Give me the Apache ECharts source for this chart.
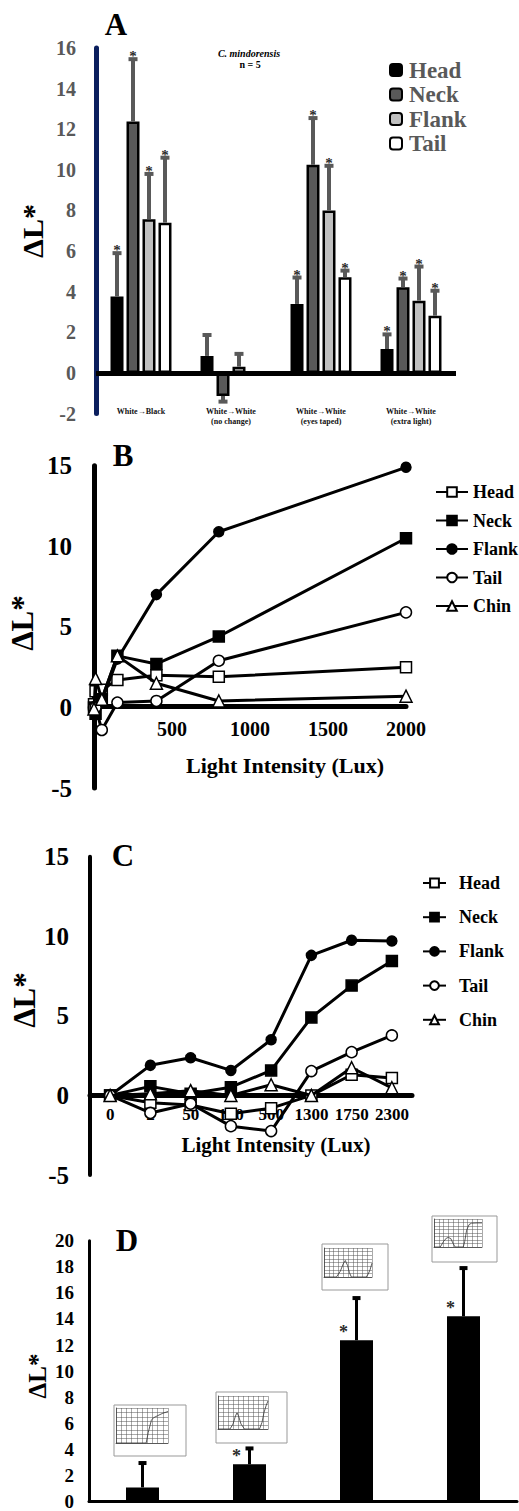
<!DOCTYPE html>
<html><head><meta charset="utf-8">
<script src="https://cdn.jsdelivr.net/npm/echarts@6/dist/echarts.min.js"></script>
<style>html,body{margin:0;padding:0;background:#fff}#c{width:519px;height:1511px}</style>
</head><body><div id="c"></div>
<script>
// ---------- Panel A ----------
const catsA = ['White→Black', 'White→White\n(no change)', 'White→White\n(eyes taped)', 'White→White\n(extra light)'];
const partsA = ['Head', 'Neck', 'Flank', 'Tail'];
const headA = [3.76, 0.84, 3.40, 1.18];
const neckA = [12.38, -1.13, 10.25, 4.22];
const flankA = [7.57, 0.31, 8.00, 3.56];
const tailA = [7.40, -0.08, 4.71, 2.82];
const headErrA = [2.14, 1.03, 1.30, 0.72];
const neckErrA = [3.07, 0.28, 2.30, 0.43];
const flankErrA = [2.23, 0.63, 2.20, 1.68];
const tailErrA = [3.20, 0.00, 0.33, 1.23];
const headStarA = [1, 0, 1, 1];
const neckStarA = [1, 0, 1, 1];
const flankStarA = [1, 0, 1, 1];
const tailStarA = [1, 0, 1, 1];

// ---------- Panel B ----------
const luxB = [0, 10, 50, 150, 400, 800, 2000];
const headB = [0.2, 1.0, 1.1, 1.7, 2.0, 1.9, 2.5];
const neckB = [0, -0.4, 0.5, 3.2, 2.7, 4.4, 10.5];
const flankB = [0, 0.0, 0.4, 3.0, 7.0, 10.9, 14.9];
const tailB = [0, 0.0, -1.4, 0.3, 0.4, 2.9, 5.9];
const chinB = [-0.1, 1.8, 0.5, 3.2, 1.5, 0.4, 0.7];

// ---------- Panel C ----------
const luxC = ['0', '2', '50', '150', '500', '1300', '1750', '2300'];
const headC = [0, -0.46, -0.6, -1.15, -0.8, 0, 1.3, 1.09];
const neckC = [0, 0.57, 0.1, 0.52, 1.57, 4.9, 6.9, 8.45];
const flankC = [0, 1.89, 2.37, 1.57, 3.5, 8.8, 9.75, 9.7];
const tailC = [0, -1.1, -0.52, -1.93, -2.24, 1.53, 2.72, 3.77];
const chinC = [0, 0.1, 0.3, 0.0, 0.67, 0, 1.74, 0.48];

// ---------- Panel D ----------
const catsD = ['Filter 1', 'Filter 2', 'Filter 3', 'Filter 4'];
const valD = [1.08, 2.85, 12.37, 14.2];
const errD = [1.87, 1.22, 3.23, 3.7];
const starD = [0, 1, 1, 1];

// inset transmission curves [wavelength nm, % transmission]
const inset1 = [[300,0],[590,0],[610,30],[640,65],[660,72],[700,78],[750,85],[800,90]];
const inset2 = [[300,0],[420,0],[450,15],[475,40],[490,49],[505,40],[530,15],[565,0],[715,0],[740,20],[760,50],[780,70],[800,85]];
const inset3 = [[300,0],[430,0],[470,20],[500,45],[522,57],[545,40],[565,15],[585,0],[740,0],[760,10],[780,25],[800,48]];
const inset4 = [[300,0],[365,0],[400,20],[430,32],[450,34],[475,30],[500,12],[520,0],[605,0],[620,20],[640,60],[665,80],[690,85],[750,86],[800,86]];

// ---------- styling ----------
const SERIF = 'Liberation Serif';
const BAR_W = 13, BAR_GAP = 0.23;
const GRAY = '#595959';

const chart = echarts.init(document.getElementById('c'), null, {renderer: 'svg'});

function starText(x, y, size) {
  return {type: 'text', style: {text: '*', x: x, y: y, align: 'center', verticalAlign: 'middle',
    fontFamily: SERIF, fontWeight: 'bold', fontSize: size, fill: '#2a2a2a', stroke: '#2a2a2a', lineWidth: 0}};
}
function errRenderA(k) {
  return function (params, api) {
    const i = api.value(0), v = api.value(1), e = api.value(2), star = api.value(3);
    const c = api.coord([i, v]);
    const x = c[0] + (k - 1.5) * BAR_W * (1 + BAR_GAP);
    const dir = v >= 0 ? 1 : -1;
    const end = api.coord([i, v + dir * e]);
    const ch = [];
    if (e > 0) {
      ch.push({type: 'line', shape: {x1: x, y1: c[1], x2: x, y2: end[1]}, style: {stroke: GRAY, lineWidth: 4}});
      ch.push({type: 'rect', shape: {x: x - 4.5, y: end[1] - 2, width: 9, height: 4}, style: {fill: GRAY}});
    }
    if (star) ch.push(starText(x, end[1] - 3, 15));
    return {type: 'group', children: ch};
  };
}
function errRenderD(params, api) {
  const i = api.value(0), v = api.value(1), e = api.value(2), star = api.value(3);
  const c = api.coord([i, v]);
  const end = api.coord([i, v + e]);
  const ch = [
    {type: 'line', shape: {x1: c[0], y1: c[1], x2: c[0], y2: end[1]}, style: {stroke: '#000', lineWidth: 3}},
    {type: 'rect', shape: {x: c[0] - 4, y: end[1] - 2, width: 8, height: 4}, style: {fill: '#000'}}
  ];
  if (star) ch.push(starText(c[0] - 13, c[1] - 8, 18));
  return {type: 'group', children: ch};
}

const valsA = [headA, neckA, flankA, tailA];
const errsA = [headErrA, neckErrA, flankErrA, tailErrA];
const starsA = [headStarA, neckStarA, flankStarA, tailStarA];
const fillsA = ['#000', GRAY, '#c0c0c0', '#fff'];

const series = [];
partsA.forEach((p, k) => {
  const s = {
    name: 'A-' + p, type: 'bar', xAxisIndex: 0, yAxisIndex: 0,
    barWidth: BAR_W, barGap: (BAR_GAP * 100) + '%',
    itemStyle: {color: fillsA[k], borderColor: '#000', borderWidth: 2.5},
    data: valsA[k], z: 2
  };
  if (k === 3) s.markLine = {silent: true, symbol: 'none', label: {show: false}, lineStyle: {color: '#000', width: 5, type: 'solid'}, data: [{yAxis: 0}], z: 5};
  series.push(s);
});
partsA.forEach((p, k) => {
  series.push({
    name: 'errA-' + p, type: 'custom', xAxisIndex: 0, yAxisIndex: 0, z: 6,
    itemStyle: {color: '#2a2a2a'},
    renderItem: errRenderA(k),
    data: valsA[k].map((v, i) => [i, v, errsA[k][i], starsA[k][i]])
  });
});

// line panel series
const lineDefs = [
  {n: 'Head', sym: 'rect', fill: '#fff', size: 11},
  {n: 'Neck', sym: 'rect', fill: '#000', size: 11},
  {n: 'Flank', sym: 'circle', fill: '#000', size: 10},
  {n: 'Tail', sym: 'circle', fill: '#fff', size: 11},
  {n: 'Chin', sym: 'triangle', fill: '#fff', size: 12}
];
const valsB = [headB, neckB, flankB, tailB, chinB];
const valsC = [headC, neckC, flankC, tailC, chinC];
lineDefs.forEach((d, k) => {
  series.push({
    name: 'B-' + d.n, type: 'line', xAxisIndex: 1, yAxisIndex: 1,
    symbol: d.sym, symbolSize: d.size, z: 3 + k * 0.1,
    lineStyle: {color: '#000', width: 3},
    itemStyle: {color: d.fill, borderColor: '#000', borderWidth: 1.5},
    data: luxB.map((x, i) => [x, valsB[k][i]])
  });
});
lineDefs.forEach((d, k) => {
  series.push({
    name: 'C-' + d.n, type: 'line', xAxisIndex: 2, yAxisIndex: 2,
    symbol: d.sym, symbolSize: d.size, z: 3 + k * 0.1,
    lineStyle: {color: '#000', width: 3},
    itemStyle: {color: d.fill, borderColor: '#000', borderWidth: 1.5},
    data: valsC[k]
  });
});

// Panel D
series.push({name: 'D', type: 'bar', xAxisIndex: 3, yAxisIndex: 3, barWidth: 33, itemStyle: {color: '#000'}, data: valD});
series.push({name: 'errD', type: 'custom', xAxisIndex: 3, yAxisIndex: 3, z: 6, itemStyle: {color: '#2a2a2a'}, renderItem: errRenderD,
  data: valD.map((v, i) => [i, v, errD[i], starD[i]])});

// insets
const insets = [inset1, inset2, inset3, inset4];
insets.forEach((d, k) => {
  series.push({name: 'inset' + k, type: 'line', xAxisIndex: 4 + k, yAxisIndex: 4 + k, symbol: 'none', z: 4,
    lineStyle: {color: '#333', width: 0.8}, data: d, silent: true});
});

const insetGrids = [
  {left: 116, top: 1408, width: 52, height: 35},
  {left: 218, top: 1396, width: 50, height: 33},
  {left: 324, top: 1248, width: 48, height: 29},
  {left: 434, top: 1219, width: 48, height: 28}
];
const insetBoxes = [
  [114, 1405, 72, 51], [216, 1392, 71, 51], [322, 1244, 66, 46], [432, 1216, 65, 46]
];

const numLabel = (size, color) => ({fontFamily: SERIF, fontWeight: 'bold', fontSize: size, color: color || '#000'});

const xAxes = [
  {gridIndex: 0, type: 'category', data: catsA, position: 'bottom',
    axisLine: {show: false, onZero: false}, axisTick: {show: false},
    axisLabel: Object.assign(numLabel(8, '#111'), {margin: -7, lineHeight: 10, interval: 0})},
  {gridIndex: 1, type: 'value', min: 0, max: 2000, interval: 500, offset: -81.3,
    axisLine: {show: true, onZero: false, lineStyle: {color: '#000', width: 5}}, axisTick: {show: false}, splitLine: {show: false},
    axisLabel: Object.assign(numLabel(20), {margin: 12, showMinLabel: false, formatter: v => v === 0 ? '' : String(v)})},
  {gridIndex: 2, type: 'category', data: luxC, boundaryGap: true, offset: -79.6,
    axisLine: {show: true, onZero: false, lineStyle: {color: '#000', width: 5}}, axisTick: {show: false},
    axisLabel: Object.assign(numLabel(17), {margin: 11, interval: 0})},
  {gridIndex: 3, type: 'category', data: catsD,
    axisLine: {show: true, lineStyle: {color: '#000', width: 3}}, axisTick: {show: false}, axisLabel: {show: false}}
];
const yAxes = [
  {gridIndex: 0, type: 'value', min: -2, max: 16, interval: 2,
    axisLine: {show: true, lineStyle: {color: '#0b1f5e', width: 5}}, axisTick: {show: false}, splitLine: {show: false},
    axisLabel: Object.assign(numLabel(20, GRAY), {margin: 20})},
  {gridIndex: 1, type: 'value', min: -5, max: 15, interval: 5,
    axisLine: {show: true, lineStyle: {color: '#000', width: 5}}, axisTick: {show: false}, splitLine: {show: false},
    axisLabel: Object.assign(numLabel(25), {margin: 22})},
  {gridIndex: 2, type: 'value', min: -5, max: 15, interval: 5,
    axisLine: {show: true, lineStyle: {color: '#000', width: 4}}, axisTick: {show: false}, splitLine: {show: false},
    axisLabel: Object.assign(numLabel(25), {margin: 21})},
  {gridIndex: 3, type: 'value', min: 0, max: 20, interval: 2,
    axisLine: {show: true, lineStyle: {color: '#000', width: 3}}, axisTick: {show: false}, splitLine: {show: false},
    axisLabel: Object.assign(numLabel(19), {margin: 15})}
];
insetGrids.forEach((g, k) => {
  xAxes.push({gridIndex: 4 + k, type: 'value', min: 300, max: 800, interval: 50,
    axisLine: {show: true, onZero: false, lineStyle: {color: '#444', width: 0.8}}, axisTick: {show: false}, axisLabel: {show: false},
    splitLine: {show: true, lineStyle: {color: '#555', width: 0.5}}});
  yAxes.push({gridIndex: 4 + k, type: 'value', min: 0, max: 100, interval: 12.5,
    axisLine: {show: true, onZero: false, lineStyle: {color: '#444', width: 0.8}}, axisTick: {show: false}, axisLabel: {show: false},
    splitLine: {show: true, lineStyle: {color: '#555', width: 0.5}}});
});

const grids = [
  {left: 96, top: 48, width: 360, height: 365.6},
  {left: 94, top: 465.7, width: 312, height: 322.3},
  {left: 90, top: 856.7, width: 322, height: 318.3},
  {left: 89, top: 1240.7, width: 428, height: 264.3}
].concat(insetGrids.map(g => Object.assign({show: true, borderColor: '#444', borderWidth: 0.8, backgroundColor: '#fff'}, g)));

const txt = (text, x, y, size, extra) => Object.assign({
  type: 'text', x: x, y: y, z: 10,
  style: {text: text, align: 'center', verticalAlign: 'middle', fill: '#000',
    fontFamily: SERIF, fontWeight: 'bold', fontSize: size}
}, extra || {});
const rot = Math.PI / 2;

const graphics = [
  txt('A', 116, 24, 31), txt('B', 123, 455, 31), txt('C', 123, 855, 31), txt('D', 127, 1240, 31),
  txt('ΔL*', 32, 231, 30, {rotation: rot}),
  txt('ΔL*', 22, 623, 31, {rotation: rot}),
  txt('ΔL*', 24, 1000, 31, {rotation: rot}),
  txt('ΔL*', 37, 1376, 25, {rotation: rot}),
  {type: 'text', x: 249, y: 53, z: 10, style: {text: 'C. mindorensis', align: 'center', verticalAlign: 'middle', fill: '#000', fontFamily: SERIF, fontStyle: 'italic', fontWeight: 'bold', fontSize: 10}},
  txt('n = 5', 250, 64, 10),
  txt('Light Intensity (Lux)', 285, 765, 22),
  txt('Light Intensity (Lux)', 276, 1145, 21)
];
insetBoxes.forEach(b => graphics.push({type: 'rect', z: 0, shape: {x: b[0], y: b[1], width: b[2], height: b[3]},
  style: {fill: '#fff', stroke: '#999', lineWidth: 1}}));

const option = {
  animation: false,
  backgroundColor: '#fff',
  textStyle: {fontFamily: SERIF},
  grid: grids,
  xAxis: xAxes,
  yAxis: yAxes,
  legend: [
    {data: partsA.map(p => 'A-' + p), formatter: n => n.slice(2), orient: 'vertical', left: 389, top: 58, padding: 0,
      icon: 'roundRect', itemWidth: 12, itemHeight: 12, itemGap: 0.5, selectedMode: false,
      textStyle: {fontFamily: SERIF, fontWeight: 'bold', fontSize: 23, color: GRAY, lineHeight: 24, padding: [0, 0, 0, 2]}},
    {data: lineDefs.map(d => 'B-' + d.n), formatter: n => n.slice(2), orient: 'vertical', left: 435, top: 482, padding: 0,
      itemWidth: 32, itemHeight: 12, itemGap: 8.5, selectedMode: false,
      textStyle: {fontFamily: SERIF, fontWeight: 'bold', fontSize: 18, color: '#000', lineHeight: 20}},
    {data: lineDefs.map(d => 'C-' + d.n), formatter: n => n.slice(2), orient: 'vertical', left: 422, top: 873, padding: 0,
      itemWidth: 23, itemHeight: 11, itemGap: 14.2, selectedMode: false,
      textStyle: {fontFamily: SERIF, fontWeight: 'bold', fontSize: 18, color: '#000', lineHeight: 20, padding: [0, 0, 0, 8]}}
  ],
  graphic: graphics,
  series: series
};
chart.setOption(option);
</script>
</body></html>
